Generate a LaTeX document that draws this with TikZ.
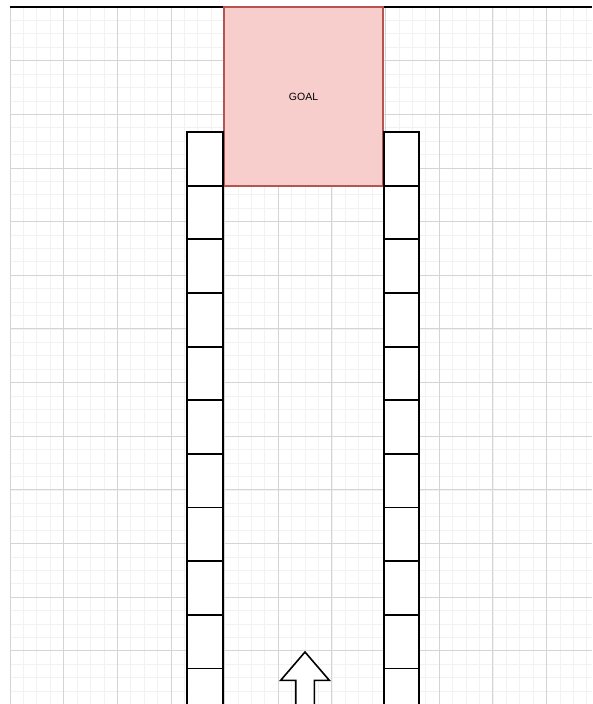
\documentclass[tikz,border=0pt]{standalone}
\usepackage{fontspec}
\setmainfont{Liberation Sans}
\definecolor{gridmajor}{HTML}{D4D4D4}
\definecolor{gridminor}{HTML}{F2F2F2}
\definecolor{goalfill}{HTML}{F8CECC}
\definecolor{goaldraw}{HTML}{B85450}
\begin{document}
\begin{tikzpicture}[x=1pt,y=-1pt,
  cell/.style={draw=black,line width=1.8pt,fill=white,inner sep=0pt,outer sep=0pt,
    minimum width=35.7pt,minimum height=53.65pt,anchor=north west},
  goalbox/.style={draw=goaldraw,line width=1.4pt,fill=goalfill,inner sep=0pt,outer sep=0pt,
    minimum width=159pt,minimum height=179pt,anchor=north west,font=\fontsize{10.5}{12}\selectfont},
  minorline/.style={draw=gridminor,line width=0.7pt},
  majorline/.style={draw=gridmajor,line width=0.9pt}]
\useasboundingbox (0,0) rectangle (592,704);
\clip (0,0) rectangle (592,704);
\fill[white] (0,0) rectangle (592,704);
% grid
\foreach \i in {0,...,43}{
  \pgfmathsetmacro{\xx}{10+\i*13.4125}
  \draw[minorline] (\xx,7) -- (\xx,704);
}
\foreach \j in {0,...,52}{
  \pgfmathsetmacro{\yy}{7+\j*13.4125}
  \draw[minorline] (10,\yy) -- (592,\yy);
}
\foreach \i in {0,...,11}{
  \pgfmathsetmacro{\xx}{10+\i*53.65}
  \draw[majorline] (\xx,7) -- (\xx,704);
}
\foreach \j in {0,...,13}{
  \pgfmathsetmacro{\yy}{7+\j*53.65}
  \draw[majorline] (10,\yy) -- (592,\yy);
}
% top wall
\coordinate (wl) at (10,7);
\coordinate (wr) at (592,7);
\node[goalbox] (goal) at (224,7) {GOAL};
\draw[line width=1.8pt] (wl) -- (goal.north west);
\draw[line width=1.8pt] (goal.north east) -- (wr);
\node[goalbox,fill=none] at (224,7) {};
% columns
\foreach \k in {0,...,10}{
  \pgfmathsetmacro{\yy}{132+\k*53.65}
  \node[cell] (L\k) at (187,\yy) {};
  \node[cell] (R\k) at (383.6,\yy) {};
}
% arrow
\draw[line width=1.6pt,fill=white,line join=miter]
  (305,652) -- (329.3,680.3) -- (314.3,680.3) -- (314.3,710) -- (295.7,710) -- (295.7,680.3) -- (280.7,680.3) -- cycle;
\end{tikzpicture}
\end{document}
